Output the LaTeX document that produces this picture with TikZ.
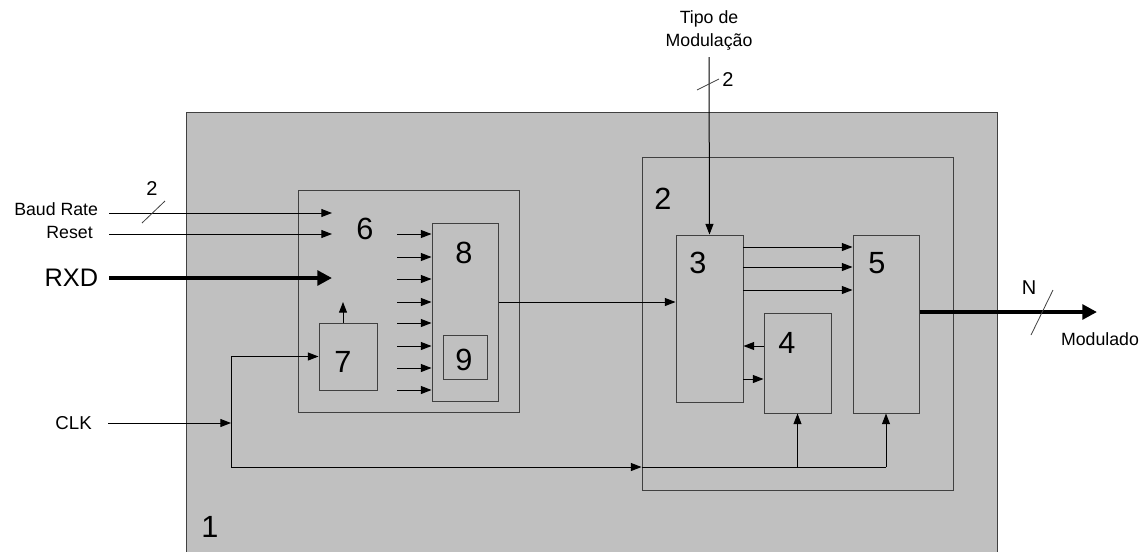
\documentclass[tikz,border=0pt]{standalone}
\usepackage{fontspec}
\setmainfont{Liberation Sans}
\usetikzlibrary{arrows.meta, positioning, fit}
\definecolor{boxGray}{HTML}{C0C0C0}
\definecolor{edgeDark}{HTML}{404040}
\tikzset{
  arrowT/.style={-{Triangle[length=8pt,width=6pt]}, black, line width=0.75pt},
  arrowBus/.style={-{Triangle[length=11pt,width=11pt]}, black, line width=3pt},
  wire/.style={black, line width=0.75pt},
  blk/.style={rectangle, draw=edgeDark, line width=0.75pt, inner sep=0pt},
  num/.style={font=\fontsize{23}{23}\selectfont, inner sep=0pt},
  sig/.style={font=\fontsize{13.3}{17}\selectfont, inner sep=0pt, align=center},
  width/.style={font=\fontsize{15}{15}\selectfont, inner sep=0pt},
  tick/.style={draw=edgeDark, line width=0.6pt},
}
\begin{document}
\begin{tikzpicture}[x=0.75pt, y=-0.75pt]
  \useasboundingbox (0,0) rectangle (1142,551);
  \clip (0,0) rectangle (1142,551);
  % blocks
  \node[blk, fill=boxGray, fit={(186,112) (997,560)}] (b1) {};
  \node[blk, fit={(642,157) (953,490)}] (b2) {};
  \node[blk, fit={(676,235) (743,402)}] (b3) {};
  \node[blk, fit={(764,313) (831,413)}] (b4) {};
  \node[blk, fit={(853,235) (919,413)}] (b5) {};
  \node[blk, fit={(298,190) (519,412)}] (b6) {};
  \node[blk, fit={(319,323) (377,390)}] (b7) {};
  \node[blk, fit={(432,223) (498,401)}] (b8) {};
  \node[blk, fit={(443,335) (487,379)}] (b9) {};
  \node[num] (n1) at (210,527) {1};
  \node[num] (n2) at (663,199) {2};
  \node[num] (n3) at (698,263) {3};
  \node[num] (n4) at (787,343) {4};
  \node[num] (n5) at (877,263) {5};
  \node[num] (n6) at (365,229) {6};
  \node[num] (n7) at (343,362) {7};
  \node[num] (n8) at (464,253) {8};
  \node[num] (n9) at (464,360) {9};
  % inputs of 6
  \coordinate (st1) at (109,213);
  \coordinate (st2) at (109,234);
  \coordinate (st3) at (109,278);
  \coordinate (in6a) at (332,213);
  \coordinate (in6b) at (332,234);
  \coordinate (in6c) at (332,278);
  \node[sig, left=8pt of st1, yshift=3pt] (baud) {Baud Rate};
  \node[sig, left=12pt of st2, yshift=1.5pt] (rst) {Reset};
  \node[font=\fontsize{19}{19}\selectfont, inner sep=0pt, left=8pt of st3] (rxd) {RXD};
  \draw[arrowT] (st1) -- (in6a);
  \draw[arrowT] (st2) -- (in6b);
  \draw[arrowBus] (st3) -- (in6c);
  \draw[tick] (142,223) -- (165,201);
  \node[width] (w1) at (152,189) {2};
  % into 8
  \foreach \y [count=\i] in {234,257,279,302,323,346,368,390} {
    \coordinate (s\i) at (397,\y);
    \draw[arrowT] (s\i) -- (s\i -| b8.west);
  }
  \coordinate (up7) at (343,302);
  \draw[arrowT] (up7 |- b7.north) -- (up7);
  \draw[arrowT] (s4 -| b8.east) -- (s4 -| b3.west);
  % block 2
  \coordinate (tm) at (709,57);
  \node[sig, above=5pt of tm] (tipo) {Tipo de\\Modulação};
  \draw[arrowT] (tm) -- (b3.north);
  \draw[tick] (697,90) -- (719,79);
  \node[width] (w2) at (728,80) {2};
  \foreach \y [count=\i] in {247,267,290} {
    \coordinate (t\i) at (743,\y);
    \draw[arrowT] (t\i) -- (t\i -| b5.west);
  }
  \coordinate (fb) at (764,346);
  \coordinate (fw) at (743,379);
  \draw[arrowT] (fb) -- (fb -| b3.east);
  \draw[arrowT] (fw) -- (fw -| b4.west);
  % clock
  \coordinate (clkin) at (108,423);
  \coordinate (j) at (231,423);
  \coordinate (bus) at (231,467);
  \node[sig, font=\fontsize{14}{14}\selectfont, left=12pt of clkin] (clk) {CLK};
  \draw[arrowT] (clkin) -- (j);
  \draw[arrowT] (j |- b7.west) -- (b7.west);
  \draw[wire] (j |- b7.west) -- (bus);
  \draw[arrowT] (bus) -- (bus -| b2.west);
  \draw[wire] (bus -| b2.west) -- (bus -| b5.south);
  \draw[arrowT] (bus -| b4.south) -- (b4.south);
  \draw[arrowT] (bus -| b5.south) -- (b5.south);
  % output
  \coordinate (mout) at (1097,312);
  \draw[arrowBus] (mout -| b5.east) -- (mout);
  \draw[tick] (1031,335) -- (1053,290);
  \node[width] (wn) at (1029,288) {N};
  \node[sig] (mod) at (1100,339) {Modulado};
\end{tikzpicture}
\end{document}
